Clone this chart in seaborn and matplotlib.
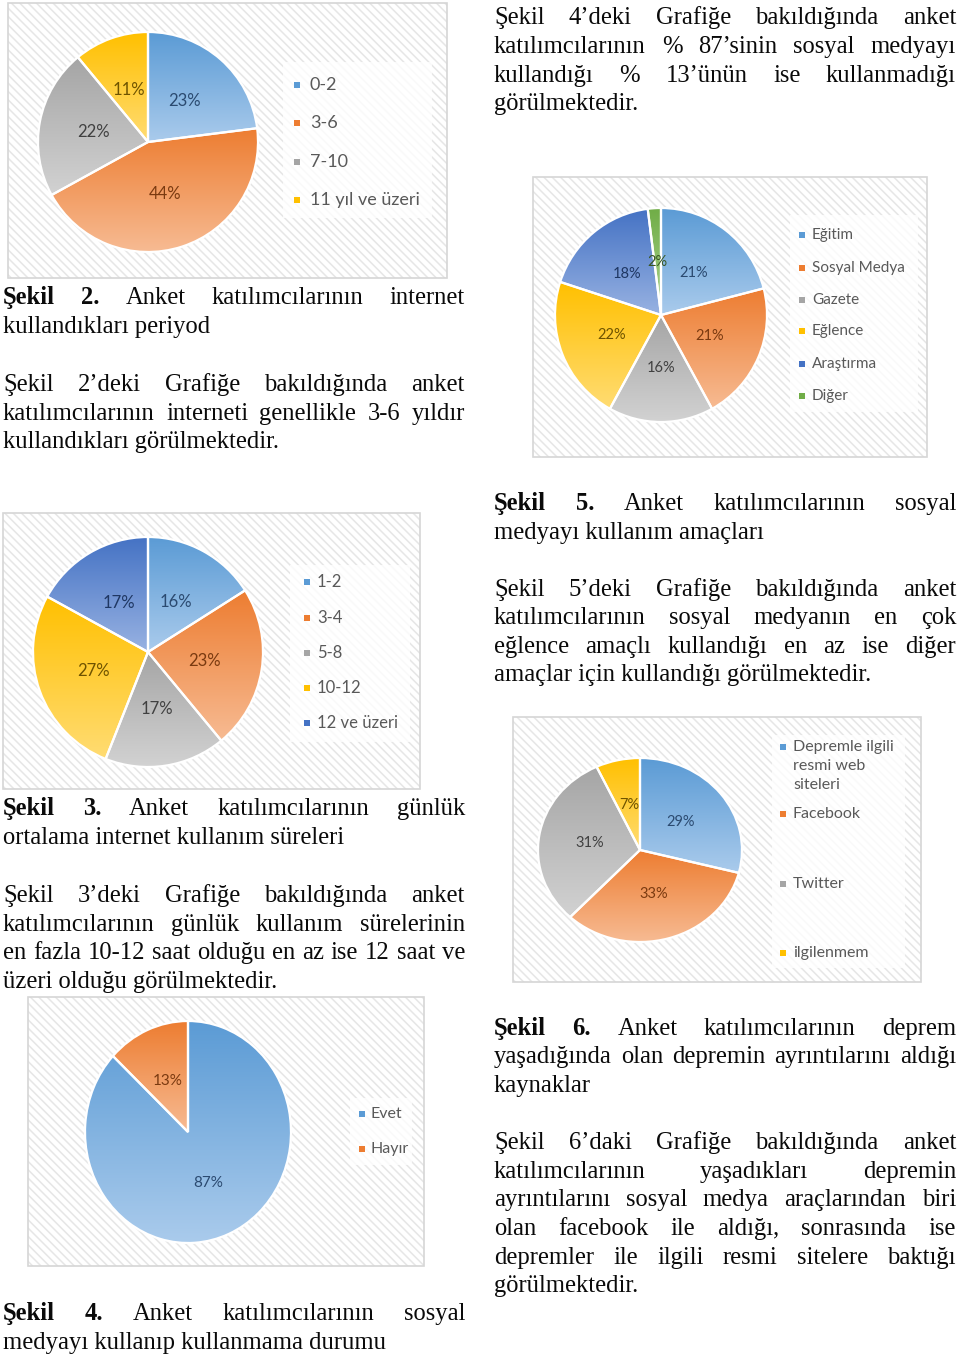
import numpy as np
import seaborn as sns
import matplotlib.pyplot as plt
from matplotlib.patches import Rectangle
from matplotlib.colors import LinearSegmentedColormap

W, H = 960, 1358

# ---- chart data ----
per_labels = ['0-2', '3-6', '7-10', '11 yıl ve üzeri']
per_vals = [23, 44, 22, 11]

sure_labels = ['1-2', '3-4', '5-8', '10-12', '12 ve üzeri']
sure_vals = [16, 23, 17, 27, 17]

kul_labels = ['Evet', 'Hayır']
kul_vals = [87, 13]

amac_labels = ['Eğitim', 'Sosyal Medya', 'Gazete', 'Eğlence', 'Araştırma', 'Diğer']
amac_vals = [21, 21, 16, 22, 18, 2]

kay_labels = ['Depremle ilgili\nresmi web\nsiteleri', 'Facebook', 'Twitter', 'ilgilenmem']
kay_vals = [29, 33, 31, 7]

# ---- page text ----
cap2 = ['Şekil 2. Anket katılımcılarının internet', 'kullandıkları periyod']
par2 = ['Şekil 2’deki Grafiğe bakıldığında anket',
        'katılımcılarının interneti genellikle 3-6 yıldır',
        'kullandıkları görülmektedir.']
cap3 = ['Şekil 3. Anket katılımcılarının günlük', 'ortalama internet kullanım süreleri']
par3 = ['Şekil 3’deki Grafiğe bakıldığında anket',
        'katılımcılarının günlük kullanım sürelerinin',
        'en fazla 10-12 saat olduğu en az ise 12 saat ve',
        'üzeri olduğu görülmektedir.']
cap4 = ['Şekil 4. Anket katılımcılarının sosyal', 'medyayı kullanıp kullanmama durumu']
par4 = ['Şekil 4’deki Grafiğe bakıldığında anket',
        'katılımcılarının % 87’sinin sosyal medyayı',
        'kullandığı % 13’ünün ise kullanmadığı',
        'görülmektedir.']
cap5 = ['Şekil 5. Anket katılımcılarının sosyal', 'medyayı kullanım amaçları']
par5 = ['Şekil 5’deki Grafiğe bakıldığında anket',
        'katılımcılarının sosyal medyanın en çok',
        'eğlence amaçlı kullandığı en az ise diğer',
        'amaçlar için kullandığı görülmektedir.']
cap6 = ['Şekil 6. Anket katılımcılarının deprem',
        'yaşadığında olan depremin ayrıntılarını aldığı',
        'kaynaklar']
par6 = ['Şekil 6’daki Grafiğe bakıldığında anket',
        'katılımcılarının yaşadıkları depremin',
        'ayrıntılarını sosyal medya araçlarından biri',
        'olan facebook ile aldığı, sonrasında ise',
        'depremler ile ilgili resmi sitelere baktığı',
        'görülmektedir.']

# office-like colours: top (dark) / bottom (light) of the gradient, label colour
dark = sns.color_palette(['#5b9bd5', '#ed7d31', '#a5a5a5', '#ffc000', '#4472c4', '#70ad47'])
light = ['#aacbec', '#f7bb93', '#d2d2d2', '#ffdc73', '#98b2e2', '#add490']
txtc = ['#2b4a70', '#7a3a10', '#404040', '#6e5300', '#1f3763', '#375623']

sns.set_style('white')
plt.rcParams['font.family'] = ['Lato', 'DejaVu Sans']
plt.rcParams['hatch.linewidth'] = 1.1

SERIF = 'Liberation Serif'
FS = 17.7

fig = plt.figure(figsize=(W / 100, H / 100), dpi=100)
fig.patch.set_facecolor('white')


def fx(x):
    return x / W


def fy(y):
    return 1 - y / H


def pie_panel(vals, labels, panel, center, rad, legbox, mx, tx, ys, pfs, lfs):
    x0, y0, x1, y1 = panel
    fig.add_artist(Rectangle((fx(x0), fy(y1)), fx(x1 - x0), (y1 - y0) / H,
                             transform=fig.transFigure, facecolor='white',
                             edgecolor='#e6e6e6', linewidth=0, hatch='\\\\\\\\', zorder=-3))
    fig.add_artist(Rectangle((fx(x0), fy(y1)), fx(x1 - x0), (y1 - y0) / H,
                             transform=fig.transFigure, facecolor='none',
                             edgecolor='#d6d6d6', linewidth=1.2, zorder=-2))
    lx0, ly0, lx1, ly1 = legbox
    fig.add_artist(Rectangle((fx(lx0), fy(ly1)), fx(lx1 - lx0), (ly1 - ly0) / H,
                             transform=fig.transFigure, facecolor='white', alpha=0.8,
                             edgecolor='none', zorder=-1))

    cx, cy = center
    rx, ry = rad
    ax = fig.add_axes([fx(cx - rx), fy(cy + ry), 2 * rx / W, 2 * ry / H])
    n = len(vals)
    wedges, _, autos = ax.pie(vals, colors=dark[:n], startangle=90, counterclock=False,
                              autopct='%1.0f%%', pctdistance=0.5,
                              wedgeprops=dict(edgecolor='white', linewidth=1.6),
                              textprops=dict(fontsize=pfs))
    grad = np.linspace(0, 1, 256).reshape(-1, 1)
    for i, w in enumerate(wedges):
        bb = w.get_path().get_extents()
        cm = LinearSegmentedColormap.from_list('g%d' % i, [dark[i], light[i]])
        ax.imshow(grad, cmap=cm, extent=(bb.x0, bb.x1, bb.y0, bb.y1), aspect='auto',
                  origin='upper', clip_path=w, zorder=0)
        w.set_facecolor('none')
        w.set_clip_on(False)
        autos[i].set_color(txtc[i])
    ax.set_aspect('auto')
    ax.set_xlim(-1, 1)
    ax.set_ylim(-1, 1)
    ax.axis('off')

    # legend entries
    s = 6
    for i, (lab, y) in enumerate(zip(labels, ys)):
        fig.add_artist(Rectangle((fx(mx - s / 2), fy(y + s / 2)), s / W, s / H,
                                 transform=fig.transFigure, facecolor=dark[i],
                                 edgecolor='none', zorder=3))
        for j, part in enumerate(lab.split('\n')):
            fig.text(fx(tx), fy(y + j * 19), part, fontsize=lfs, color='#595959',
                     va='center', ha='left')


def write_block(x0, x1, ys, lines, bold_n=0):
    r = fig.canvas.get_renderer()
    for k, (y, line) in enumerate(zip(ys, lines)):
        if k == len(lines) - 1:
            fig.text(fx(x0), fy(y), line, fontsize=FS, family=SERIF, va='baseline',
                     ha='left', color='#0a0a0a')
            continue
        words = line.split(' ')
        arts = []
        for j, wd in enumerate(words):
            bold = (k == 0 and j < bold_n)
            arts.append(fig.text(fx(x0), fy(y), wd, fontsize=FS, family=SERIF,
                                 fontweight='bold' if bold else 'normal',
                                 va='baseline', ha='left', color='#0a0a0a'))
        widths = [a.get_window_extent(r).width for a in arts]
        gap = (x1 - x0 - sum(widths)) / max(len(words) - 1, 1)
        x = x0
        for a, wd in zip(arts, widths):
            a.set_x(fx(x))
            x += wd + gap


# ---- pies ----
pie_panel(per_vals, per_labels, (8, 3, 447, 278), (148, 142), (110, 110),
          (283, 62, 432, 218), 297, 310, [85, 123, 162, 200], 12, 13)
pie_panel(amac_vals, amac_labels, (533, 177, 927, 457), (661, 315), (106, 107),
          (790, 215, 918, 412), 802, 812, [235, 268, 300, 331, 364, 396], 10.5, 11)
pie_panel(sure_vals, sure_labels, (3, 513, 420, 789), (148, 652), (115, 115),
          (290, 565, 410, 742), 307, 317, [582, 618, 653, 688, 723], 12, 12)
pie_panel(kay_vals, kay_labels, (513, 717, 921, 982), (640, 850), (102, 92),
          (772, 735, 905, 968), 783, 793, [747, 814, 884, 953], 10.5, 11.5)
pie_panel(kul_vals, kul_labels, (28, 997, 424, 1266), (188, 1132), (103, 111),
          (350, 1098, 412, 1165), 362, 370, [1114, 1149], 11, 11.5)

# ---- text, left column ----
LX0, LX1 = 3, 465
write_block(LX0, LX1, [304, 333], cap2, bold_n=2)
write_block(LX0, LX1, [391, 420, 448], par2)
write_block(LX0, LX1, [815, 844], cap3, bold_n=2)
write_block(LX0, LX1, [902, 931, 959, 988], par3)
write_block(LX0, LX1, [1320, 1349], cap4, bold_n=2)

# ---- text, right column ----
RX0, RX1 = 494, 956
write_block(RX0, RX1, [24, 53, 82, 110], par4)
write_block(RX0, RX1, [510, 539], cap5, bold_n=2)
write_block(RX0, RX1, [596, 624, 653, 681], par5)
write_block(RX0, RX1, [1035, 1063, 1092], cap6, bold_n=2)
write_block(RX0, RX1, [1149, 1178, 1206, 1235, 1264, 1292], par6)

fig.savefig('out.png', dpi=100)
